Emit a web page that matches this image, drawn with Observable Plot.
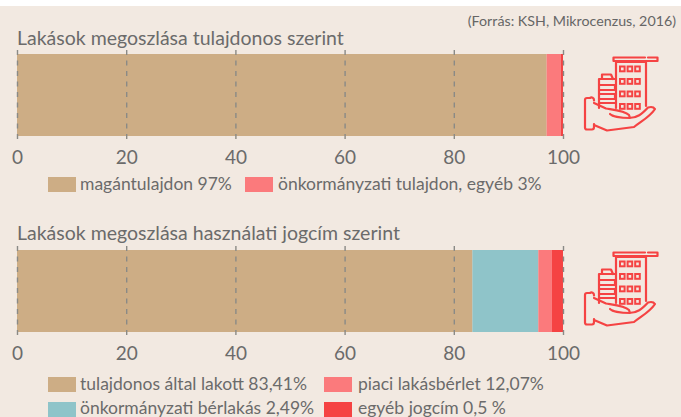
<!DOCTYPE html>
<html lang="hu">
<head>
<meta charset="utf-8">
<script src="https://cdn.jsdelivr.net/npm/d3@7"></script>
<script src="https://cdn.jsdelivr.net/npm/@observablehq/plot@0.6"></script>
<style>
html,body{margin:0;padding:0;background:#fff;overflow:hidden}
#page{position:absolute;left:0;top:6px;width:681px;height:411px;background:#f2e9e1;overflow:hidden}
#root{position:absolute;left:0;top:-6px;width:681px;height:417px;font-family:Lato,sans-serif;color:#6b6b6b}
.t{position:absolute;white-space:nowrap;line-height:1}
.title{font-size:19.5px;left:17px}
.src{font-size:14.25px;right:5px;color:#666}
.plot{position:absolute;left:0}
.plot svg{display:block;background:transparent}
.sw{position:absolute;width:28px;height:15px}
.leg{font-size:17.5px}
#icons{position:absolute;left:0;top:0}
</style>
</head>
<body>
<div id="page"><div id="root"></div></div>
<script>
const ticks = [0, 20, 40, 60, 80, 100];
const ownerKeys = ["magántulajdon", "önkormányzati tulajdon", "egyéb"];
const ownerValues = [97, 2.6, 0.4];
const ownerColors = ["#cdad85", "#fb7a7c", "#f54343"];
const useKeys = ["tulajdonos által lakott", "önkormányzati bérlakás", "piaci lakásbérlet", "egyéb jogcím"];
const useValues = [83.41, 12.07, 2.49, 2.03];
const useColors = ["#cdad85", "#8fc4c9", "#fb7a7c", "#f54343"];
const titles = ["Lakások megoszlása tulajdonos szerint", "Lakások megoszlása használati jogcím szerint"];
const source = "(Forrás: KSH, Mikrocenzus, 2016)";
const ownerLegend = [["magántulajdon 97%", "#cdad85"], ["önkormányzati tulajdon, egyéb 3%", "#fb7a7c"]];
const useLegend = [["tulajdonos által lakott 83,41%", "#cdad85"], ["piaci lakásbérlet 12,07%", "#fb7a7c"], ["önkormányzati bérlakás 2,49%", "#8fc4c9"], ["egyéb jogcím 0,5 %", "#f54343"]];

const root = document.getElementById("root");

function chart(keys, values, colors, top) {
  const data = keys.map((k, i) => ({key: k, value: values[i]}));
  const p = Plot.plot({
    width: 681, height: 146,
    marginLeft: 17, marginRight: 118, marginTop: 22, marginBottom: 34,
    style: {background: "transparent", fontFamily: 'Lato,sans-serif'},
    x: {domain: [0, 100], axis: null},
    color: {domain: keys, range: colors},
    marks: [
      Plot.barX(data, {x: "value", fill: "key", insetTop: 4, insetBottom: 4, order: null}),
      Plot.ruleX(ticks, {stroke: "#8a8a86", strokeWidth: 1.4, strokeDasharray: "5 5.5"}),
      Plot.axisX(ticks, {anchor: "bottom", tickSize: 0, tickPadding: 10, fontSize: 19, color: "#6b6b6b", label: null, tickFormat: d => String(d)})
    ]
  });
  const w = document.createElement("div");
  w.className = "plot"; w.style.top = top + "px";
  w.appendChild(p);
  root.appendChild(w);
}
function text(s, cls, left, top) {
  const e = document.createElement("div");
  e.className = "t " + cls; e.textContent = s;
  if (left != null) e.style.left = left + "px";
  e.style.top = top + "px";
  root.appendChild(e);
}
function legendItem(item, left, top, textLeft, textTop) {
  const s = document.createElement("div");
  s.className = "sw"; s.style.left = left + "px"; s.style.top = top + "px"; s.style.background = item[1];
  root.appendChild(s);
  text(item[0], "leg", textLeft, textTop);
}

chart(ownerKeys, ownerValues, ownerColors, 28);
chart(useKeys, useValues, useColors, 224);

text(source, "src", null, 14);
text(titles[0], "title", 17, 28);
text(titles[1], "title", 17, 223);
legendItem(ownerLegend[0], 48, 177, 80, 175);
legendItem(ownerLegend[1], 245, 177, 278, 175);
legendItem(useLegend[0], 48, 377, 80, 375);
legendItem(useLegend[1], 324, 377, 358, 375);
legendItem(useLegend[2], 48, 402, 80, 399);
legendItem(useLegend[3], 324, 402, 358, 399);

const iconBody = `
<g fill="none" stroke="#f54343" stroke-width="2.2" stroke-linecap="round" stroke-linejoin="round">
<path d="M616 108V62H646V106"/>
<path d="M613.500 61V57.500H645M648 57.500H657.500V61H613.500"/>
<path d="M616 79H599V108"/>
<path d="M602 79V74.500H611L613 79"/>
<path d="M600 85H615V90H600M600 94H615V99H600M600 103H615"/>
<path d="M594 100.500V100A2.500 2.500 0 0 0 590 98L587 98Q585 98 585 100V127.500Q585 129.500 587 129.500H592Q594 129.500 594 127V124"/>
<path d="M594 103L606 108.500C615 110 625 111 629 115L630 118C620 118 612 116 610 114M629 118C637 118 642 114 648 107.500Q653 106 655 109C650 117 640 122 634 127L607 130.500L594 125"/>
</g>
<g fill="none" stroke="#f54343" stroke-width="2">
${[0, 1, 2, 3].map(r => [0, 1, 2].map(c => `<rect x="${620 + c * 7.6}" y="${66.500 + r * 12.5}" width="4.600" height="4.800"/>`).join("")).join("")}
</g>`;
const iconWrap = document.createElement("div");
iconWrap.innerHTML = `<svg id="icons" width="681" height="417" viewBox="0 0 681 417" aria-hidden="true">
<defs><g id="ic">${iconBody}</g></defs>
<use href="#ic"/><use href="#ic" transform="translate(0,195)"/></svg>`;
root.appendChild(iconWrap);
</script>
</body>
</html>
